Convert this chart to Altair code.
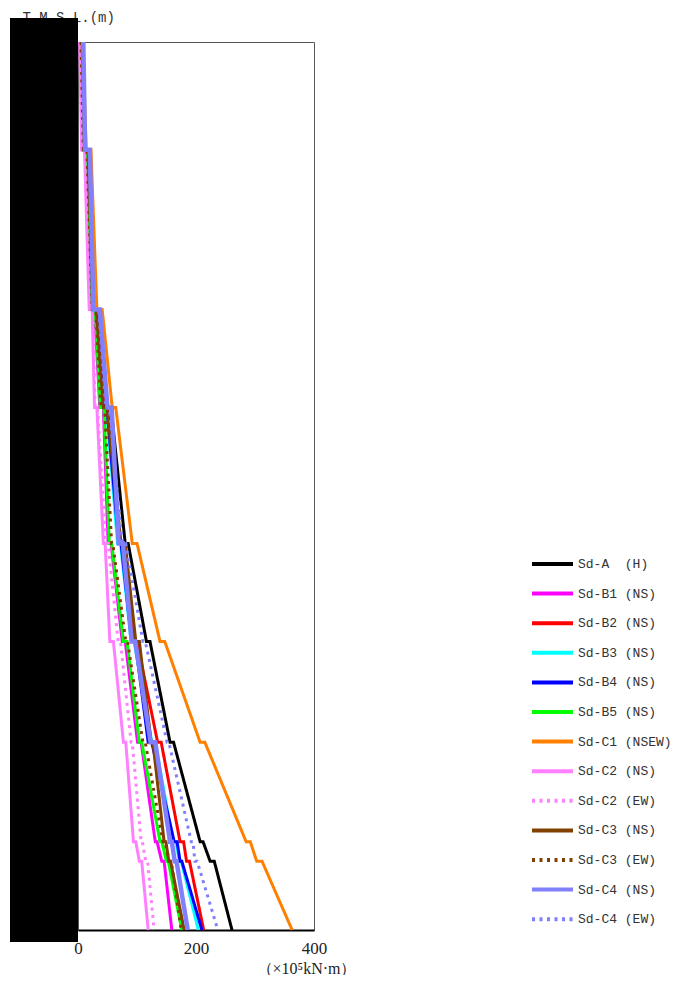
import altair as alt
import pandas as pd

NB = "\u00a0"
series = [
    "Sd-A" + NB + NB + "(H)",
    "Sd-B1" + NB + "(NS)",
    "Sd-B2" + NB + "(NS)",
    "Sd-B3" + NB + "(NS)",
    "Sd-B4" + NB + "(NS)",
    "Sd-B5" + NB + "(NS)",
    "Sd-C1" + NB + "(NSEW)",
    "Sd-C2" + NB + "(NS)",
    "Sd-C2" + NB + "(EW)",
    "Sd-C3" + NB + "(NS)",
    "Sd-C3" + NB + "(EW)",
    "Sd-C4" + NB + "(NS)",
    "Sd-C4" + NB + "(EW)",
]
colors = ["#000000", "#ff00ff", "#ff0000", "#00ffff", "#0000ff", "#00ff00",
          "#ff8000", "#ff80ff", "#ff80ff", "#804000", "#804000", "#8080ff", "#8080ff"]
dotted = [False, False, False, False, False, False, False, False, True, False, True, False, True]

# node elevations (T.M.S.L., m), top to bottom
nodes = [49.7, 42.0, 30.6, 23.6, 13.9, 6.9, -0.3, -7.4, -8.8, -13.7]

# moment (x10^5 kN.m): for each segment, value at its top and at its bottom
A    = [5, 10, 19, 27, 36, 49, 56, 80, 85, 116, 122, 156, 162, 207, 212, 224, 231, 261]
B1   = [4, 8, 14, 23, 28, 37, 43, 51, 56, 75, 80, 101, 107, 131, 134, 142, 146, 159]
B2   = [7, 11, 18, 25, 32, 44, 50, 70, 75, 95, 100, 135, 141, 173, 179, 184, 189, 213]
B3   = [7, 11, 17, 25, 31, 42, 48, 67, 72, 90, 95, 125, 131, 161, 166, 172, 175, 204]
B4   = [7, 11, 17, 25, 31, 43, 49, 69, 73, 91, 97, 119, 125, 163, 168, 173, 176, 210]
B5   = [5, 9, 15, 24, 29, 38, 44, 53, 57, 77, 83, 104, 108, 139, 142, 150, 153, 176]
C1   = [8, 14, 22, 32, 41, 58, 64, 92, 100, 139, 147, 207, 215, 285, 292, 303, 312, 363]
C2NS = [3, 6, 11, 19, 24, 28, 32, 43, 46, 54, 60, 77, 81, 94, 98, 104, 108, 119]
C2EW = [3, 7, 12, 20, 25, 29, 33, 47, 51, 68, 72, 90, 92, 107, 109, 115, 118, 129]
C3NS = [7, 11, 17, 25, 31, 43, 49, 73, 80, 98, 104, 124, 127, 146, 149, 154, 157, 180]
C3EW = [5, 9, 15, 24, 30, 39, 45, 57, 59, 81, 84, 110, 114, 144, 147, 155, 158, 175]
C4NS = [9, 12, 20, 26, 37, 50, 57, 69, 76, 91, 97, 123, 131, 156, 159, 164, 167, 186]
C4EW = [8, 13, 19, 27, 35, 47, 53, 75, 81, 110, 114, 151, 154, 192, 195, 198, 202, 237]

all_vals = [A, B1, B2, B3, B4, B5, C1, C2NS, C2EW, C3NS, C3EW, C4NS, C4EW]

rows = []
for name, vals in zip(series, all_vals):
    for k, v in enumerate(vals):
        rows.append({"series": name, "idx": k, "elev": nodes[k // 2 + k % 2], "m": v})
df = pd.DataFrame(rows)

dash_range = [[3, 4.5] if d else [1, 0] for d in dotted]

lines = alt.Chart(df).mark_line(strokeJoin="miter").encode(
    x=alt.X("m:Q",
            scale=alt.Scale(domain=[0, 400], nice=False, zero=False),
            axis=alt.Axis(values=[0, 200, 400], ticks=False, grid=False,
                          domainColor="#000000", domainWidth=2, labelFlush=False,
                          labelFont="Liberation Serif", labelFontSize=17,
                          labelColor="#222222", labelPadding=10,
                          title="（×10⁵kN·m）", titleFont="Liberation Serif",
                          titleFontSize=16, titleFontWeight="normal",
                          titleColor="#222222", titleX=228, titleY=43,
                          titleAlign="center", titleBaseline="alphabetic")),
    y=alt.Y("elev:Q",
            scale=alt.Scale(domain=[-13.7, 49.7], nice=False, zero=False),
            axis=alt.Axis(labels=False, ticks=False, grid=False, domain=False,
                          title="T.M.S.L.(m)", titleAngle=0, titleFont="Liberation Mono",
                          titleFontSize=14, titleFontWeight="normal", titleColor="#333333",
                          titleX=-56, titleY=-21, titleAlign="left",
                          titleBaseline="alphabetic")),
    color=alt.Color("series:N", scale=alt.Scale(domain=series, range=colors),
                    sort=series, title=None),
    strokeDash=alt.StrokeDash("series:N", scale=alt.Scale(domain=series, range=dash_range),
                              sort=series, title=None),
    strokeWidth=alt.condition(alt.datum.series == series[11], alt.value(4.5), alt.value(3)),
    order=alt.Order("idx:Q"),
)

box = alt.Chart(pd.DataFrame({"a": [0]})).mark_rect(color="#000000").encode(
    x=alt.value(-68), x2=alt.value(0), y=alt.value(-24), y2=alt.value(900)
)

chart = alt.layer(lines, box).properties(
    width=236, height=888,
    autosize=alt.AutoSizeParams(type="none"),
    padding={"left": 70, "top": 34, "right": 359, "bottom": 45},
).configure_view(
    stroke="#555555", strokeWidth=1
).configure_legend(
    orient="none", legendX=452, legendY=514, padding=0,
    symbolType="stroke", symbolSize=1681, symbolStrokeWidth=4,
    labelFont="Liberation Mono", labelFontSize=13, labelColor="#333333",
    labelOffset=3, rowPadding=13.6, clipHeight=16, labelLimit=300,
)

chart.save("out.html", embed_options={"renderer": "svg", "actions": False})
